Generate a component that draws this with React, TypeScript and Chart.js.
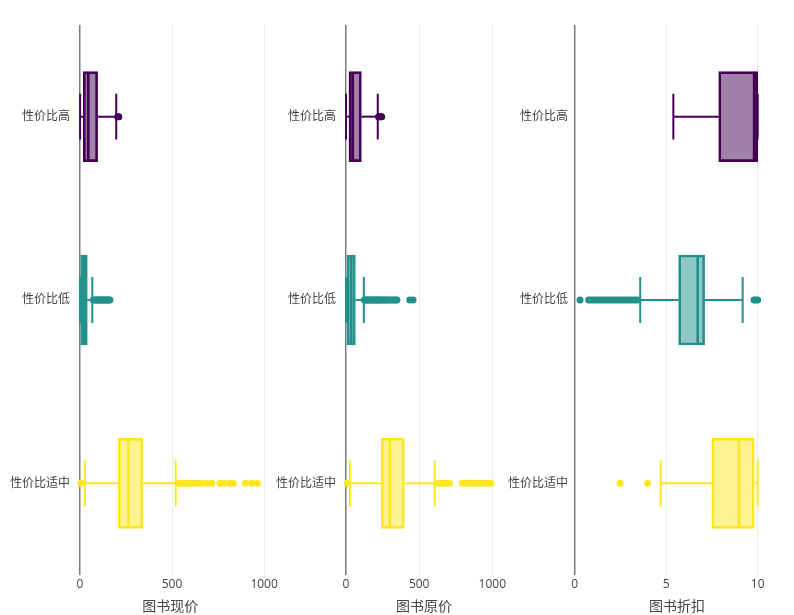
import React, { useEffect, useRef } from 'react';
import { Chart, registerables } from 'chart.js';

Chart.register(...registerables);

// ---------- data ----------
const categories = ['性价比高', '性价比低', '性价比适中'];
const lineColors = ['#440154', '#21918c', '#fde725'];
const fillColors = ['rgba(68,1,84,0.5)', 'rgba(33,145,140,0.5)', 'rgba(253,231,37,0.5)'];

// 图书现价
const nowTitle = '图书现价';
const nowTicks = [0, 500, 1000];
const nowLow = [1, 0, 27];
const nowQ1 = [18, 4, 208];
const nowMedian = [45, 23, 263];
const nowQ3 = [96, 40, 341];
const nowHigh = [197, 67, 520];
const nowOutHigh = [205, 211];
const nowOutLow = [73, 79, 85, 91, 97, 103, 109, 115, 121, 127, 133, 139, 145, 151, 157, 163];
const nowOutMid = [5, 533, 545, 557, 570, 583, 596, 610, 625, 640, 661, 688, 715, 760, 783, 815, 833, 898, 932, 963];

// 图书原价
const origTitle = '图书原价';
const origTicks = [0, 500, 1000];
const origLow = [0, 0, 27];
const origQ1 = [20, 7, 241];
const origMedian = [46, 36, 299];
const origQ3 = [105, 64, 399];
const origHigh = [217, 122, 606];
const origOutHigh = [222, 230, 238, 244];
const origOutLow = [126, 134, 142, 150, 158, 166, 174, 182, 190, 198, 206, 214, 222, 230, 238, 248, 258, 268, 278, 290, 302, 314, 326, 338, 348, 436, 458];
const origOutMid = [8, 628, 643, 658, 673, 690, 708, 795, 815, 835, 855, 875, 895, 915, 935, 955, 975, 990];

// 图书折扣
const discTitle = '图书折扣';
const discTicks = [0, 5, 10];
const discLow = [5.39, 3.58, 4.7];
const discQ1 = [7.87, 5.68, 7.49];
const discMedian = [9.81, 6.72, 8.98];
const discQ3 = [10, 7.1, 9.81];
const discHigh = [10, 9.18, 10];
const discOutHigh: number[] = [];
const discOutLow = [0.29, 0.76, 0.9, 1.05, 1.2, 1.35, 1.5, 1.65, 1.8, 1.95, 2.1, 2.25, 2.4, 2.55, 2.7, 2.85, 3.0, 3.15, 3.3, 3.45, 9.8, 9.9, 10];
const discOutMid = [2.48, 3.98];

// ---------- layout ----------
const FONT = '"Open Sans", "Noto Sans CJK SC", sans-serif';

type PanelProps = {
  title: string;
  ticks: number[];
  low: number[];
  q1: number[];
  med: number[];
  q3: number[];
  high: number[];
  outliers: number[][];
  min: number;
  max: number;
  left: number;
  width: number;
  yWidth: number;
  padRight: number;
};

function Panel(p: PanelProps) {
  const ref = useRef<HTMLCanvasElement | null>(null);
  useEffect(() => {
    if (!ref.current) return;
    const datasets: any[] = [];
    const cap = 0.125;
    categories.forEach((_, i) => {
      const color = lineColors[i];
      const seg = (pts: { x: number; y: number }[]) => ({
        type: 'line',
        data: pts,
        borderColor: color,
        borderWidth: 2,
        pointRadius: 0,
        fill: false,
        tension: 0,
      });
      datasets.push(seg([{ x: p.low[i], y: i - cap }, { x: p.low[i], y: i + cap }]));
      datasets.push(seg([{ x: p.high[i], y: i - cap }, { x: p.high[i], y: i + cap }]));
      datasets.push(seg([{ x: p.low[i], y: i }, { x: p.q1[i], y: i }]));
      datasets.push(seg([{ x: p.q3[i], y: i }, { x: p.high[i], y: i }]));
      datasets.push({
        type: 'scatter',
        data: p.outliers[i].map((v) => ({ x: v, y: i })),
        backgroundColor: color,
        borderWidth: 0,
        pointRadius: 3.5,
        showLine: false,
      });
    });
    const boxBase = {
      type: 'bar',
      indexAxis: 'y',
      grouped: false,
      barThickness: 90,
      borderSkipped: false,
      backgroundColor: fillColors,
      borderColor: lineColors,
    };
    datasets.push({
      ...boxBase,
      data: categories.map((_, i) => ({ y: i, x: [p.q1[i], p.med[i]] })),
      borderWidth: { left: 2, right: 1, top: 2, bottom: 2 },
    });
    datasets.push({
      ...boxBase,
      data: categories.map((_, i) => ({ y: i, x: [p.med[i], p.q3[i]] })),
      borderWidth: { left: 1, right: 2, top: 2, bottom: 2 },
    });

    const chart = new Chart(ref.current, {
      type: 'scatter',
      data: { datasets },
      options: {
        responsive: false,
        animation: false,
        events: [],
        layout: { padding: { top: 25, bottom: 0, left: 0, right: p.padRight } },
        plugins: { legend: { display: false }, tooltip: { enabled: false } },
        scales: {
          x: {
            type: 'linear',
            min: p.min,
            max: p.max,
            offset: false,
            afterBuildTicks: (s: any) => {
              s.ticks = p.ticks.map((v) => ({ value: v }));
            },
            afterFit: (s: any) => {
              s.height = 40;
            },
            ticks: {
              autoSkip: false,
              maxRotation: 0,
              padding: 2,
              color: '#444',
              font: { family: FONT, size: 12 },
              callback: (v: any) => String(v),
            },
            grid: {
              offset: false,
              drawTicks: false,
              color: (c: any) => (c.tick && c.tick.value === 0 ? '#7a7a7a' : '#ebebeb'),
              lineWidth: (c: any) => (c.tick && c.tick.value === 0 ? 1.5 : 1),
            },
            border: { display: false },
            title: {
              display: true,
              text: p.title,
              color: '#444',
              font: { family: FONT, size: 14 },
              padding: { top: 0, bottom: 0 },
            },
          },
          y: {
            type: 'linear',
            min: -0.5,
            max: 2.5,
            reverse: true,
            offset: false,
            afterBuildTicks: (s: any) => {
              s.ticks = categories.map((_, i) => ({ value: i }));
            },
            afterFit: (s: any) => {
              s.width = p.yWidth;
            },
            ticks: {
              autoSkip: false,
              padding: 4,
              color: '#444',
              font: { family: FONT, size: 12 },
              callback: (v: any) => categories[v as number],
            },
            grid: { display: false, drawTicks: false, offset: false },
            border: { display: false },
          },
        },
      } as any,
    } as any);
    return () => chart.destroy();
  }, []);
  return (
    <canvas
      ref={ref}
      width={p.width}
      height={615}
      style={{ position: 'absolute', left: p.left, top: 0, width: p.width, height: 615 }}
    />
  );
}

export default function App() {
  return (
    <div style={{ position: 'absolute', left: 0, top: 0, width: 794, height: 615, background: '#fff' }}>
      <Panel
        title={nowTitle}
        ticks={nowTicks}
        low={nowLow}
        q1={nowQ1}
        med={nowMedian}
        q3={nowQ3}
        high={nowHigh}
        outliers={[nowOutHigh, nowOutLow, nowOutMid]}
        min={-32.3}
        max={1013.5}
        left={0}
        width={280}
        yWidth={74}
        padRight={12}
      />
      <Panel
        title={origTitle}
        ticks={origTicks}
        low={origLow}
        q1={origQ1}
        med={origMedian}
        q3={origQ3}
        high={origHigh}
        outliers={[origOutHigh, origOutLow, origOutMid]}
        min={-41}
        max={1107}
        left={272}
        width={240}
        yWidth={68}
        padRight={4}
      />
      <Panel
        title={discTitle}
        ticks={discTicks}
        low={discLow}
        q1={discQ1}
        med={discMedian}
        q3={discQ3}
        high={discHigh}
        outliers={[discOutHigh, discOutLow, discOutMid]}
        min={-0.15}
        max={11.33}
        left={505}
        width={289}
        yWidth={67}
        padRight={12}
      />
    </div>
  );
}
